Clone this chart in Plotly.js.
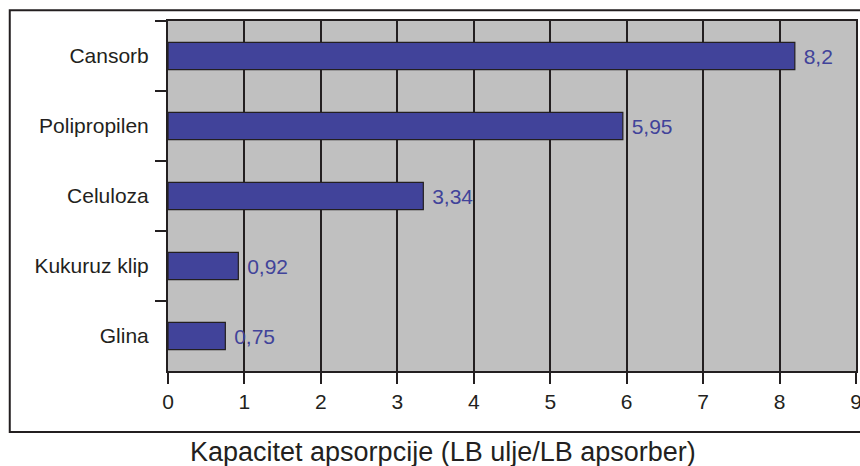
<!DOCTYPE html>
<html>
<head>
<meta charset="utf-8">
<script src="https://cdn.plot.ly/plotly-3.0.1.min.js"></script>
<style>html,body{margin:0;padding:0;background:#fff;}</style>
</head>
<body>
<div id="chart" style="width:860px;height:466px;"></div>
<script>
const categories = ["Cansorb", "Polipropilen", "Celuloza", "Kukuruz klip", "Glina"];
const values = [8.2, 5.95, 3.34, 0.92, 0.75];
const xTicks = [0, 1, 2, 3, 4, 5, 6, 7, 8, 9];
const axisTitle = "Kapacitet apsorpcije (LB ulje/LB apsorber)";

const dark = "#231f20";
const barColor = "#41439a";
const font = "Liberation Sans, Arial, sans-serif";

const trace = {
  type: "bar",
  orientation: "h",
  x: values,
  y: categories,
  marker: { color: barColor, line: { color: dark, width: 1.2 } },
  texttemplate: " %{x}",
  textposition: "outside",
  textfont: { family: font, size: 21, color: barColor },
  cliponaxis: false,
  hoverinfo: "none"
};

const layout = {
  width: 860,
  height: 466,
  margin: { l: 168, r: 4, t: 21, b: 95 },
  paper_bgcolor: "#ffffff",
  plot_bgcolor: "#c0c0c0",
  separators: ",.",
  bargap: 0.61,
  showlegend: false,
  font: { family: font, color: dark, size: 21 },
  xaxis: {
    range: [0, 9],
    tickvals: xTicks,
    ticktext: xTicks.map(String),
    showgrid: true,
    gridcolor: dark,
    gridwidth: 2,
    zeroline: false,
    showline: true,
    linecolor: dark,
    linewidth: 2,
    mirror: true,
    ticks: "outside",
    ticklen: 11,
    tickwidth: 2,
    tickcolor: dark,
    ticklabeloverflow: "allow",
    tickfont: { family: font, size: 21, color: dark },
    fixedrange: true
  },
  yaxis: {
    type: "category",
    autorange: "reversed",
    showgrid: false,
    zeroline: false,
    showline: true,
    linecolor: dark,
    linewidth: 2,
    mirror: true,
    ticks: "outside",
    tickson: "boundaries",
    ticklen: 11,
    tickwidth: 2,
    tickcolor: dark,
    ticklabelstandoff: 13,
    tickfont: { family: font, size: 21, color: dark },
    fixedrange: true
  },
  shapes: [
    {
      type: "rect", xref: "paper", yref: "paper",
      x0: -0.23, x1: 1.02, y0: -0.174, y1: 1.031,
      line: { color: dark, width: 2 }, fillcolor: "rgba(0,0,0,0)", layer: "below"
    }
  ],
  annotations: [
    {
      xref: "paper", yref: "paper",
      x: 0.399, y: -0.232,
      xanchor: "center", yanchor: "middle",
      text: axisTitle, showarrow: false,
      font: { family: font, size: 27, color: dark }
    }
  ]
};

Plotly.newPlot("chart", [trace], layout, { staticPlot: true, displayModeBar: false });
</script>
</body>
</html>
